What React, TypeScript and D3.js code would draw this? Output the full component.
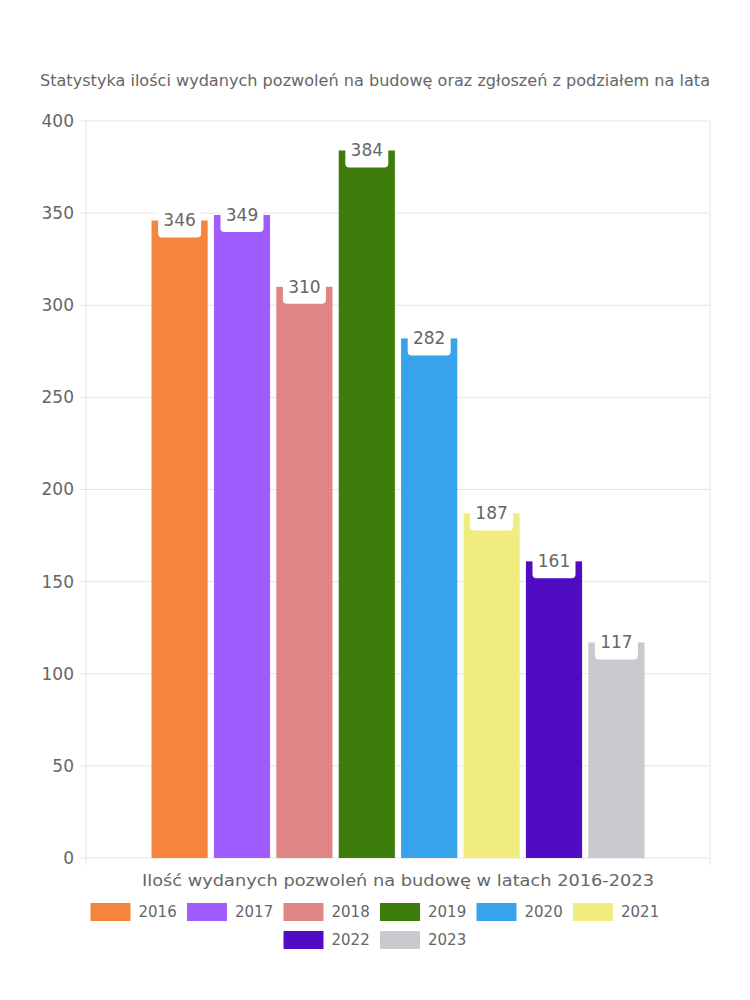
import { useMemo } from 'react';
import * as d3 from 'd3';

const years = ['2016', '2017', '2018', '2019', '2020', '2021', '2022', '2023'];
const permits = [346, 349, 310, 384, 282, 187, 161, 117];
const colors = ['#f5843f', '#a05cff', '#e08585', '#3e7d0c', '#37a3eb', '#f0ec7e', '#500cc3', '#c9cace'];
const yTicks = [0, 50, 100, 150, 200, 250, 300, 350, 400];

const title = 'Statystyka ilości wydanych pozwoleń na budowę oraz zgłoszeń z podziałem na lata';
const xTitle = 'Ilość wydanych pozwoleń na budowę w latach 2016-2023';

const W = 750;
const H = 1000;
const font = "'DejaVu Sans', sans-serif";
const textColor = '#666';

export default function App() {
  const margin = { top: 121, right: 40, bottom: 142, left: 86 };
  const innerW = W - margin.left - margin.right;
  const innerH = H - margin.top - margin.bottom;

  const y = useMemo(() => d3.scaleLinear().domain([0, 400]).range([innerH, 0]), [innerH]);

  // single category, bars grouped inside it (80% of width, 90% per bar)
  const groupW = innerW * 0.8;
  const x = d3.scaleBand().domain(years).range([(innerW - groupW) / 2, (innerW + groupW) / 2]).paddingInner(0.1).paddingOuter(0.05);

  const legendRows = [years.slice(0, 6), years.slice(6)];
  const itemW = 96.5;

  return (
    <svg width={W} height={H} style={{ position: 'absolute', left: 0, top: 0 }} fontFamily={font}>
      <text x={375} y={86} textAnchor="middle" fontSize={15} fill={textColor} textLength={670} lengthAdjust="spacingAndGlyphs">{title}</text>
      <g transform={`translate(${margin.left},${margin.top})`}>
        {yTicks.map(t => (
          <g key={t}>
            <line x1={-6} x2={innerW} y1={y(t)} y2={y(t)} stroke="#e5e5e5" />
            <text x={-12} y={y(t)} dy="0.35em" textAnchor="end" fontSize={17} fill={textColor}>{t}</text>
          </g>
        ))}
        <line x1={0} x2={0} y1={0} y2={innerH + 7} stroke="#e5e5e5" />
        <line x1={innerW} x2={innerW} y1={0} y2={innerH + 7} stroke="#e5e5e5" />
        {years.map((yr, i) => (
          <rect key={yr} x={x(yr)} y={y(permits[i])} width={x.bandwidth()} height={innerH - y(permits[i])} fill={colors[i]} />
        ))}
        {years.map((yr, i) => {
          const cx = (x(yr) ?? 0) + x.bandwidth() / 2;
          const cy = y(permits[i]);
          return (
            <g key={yr}>
              <rect x={cx - 21.5} y={cy - 17} width={43} height={34} rx={4} fill="#fff" />
              <text x={cx} y={cy} dy="0.35em" textAnchor="middle" fontSize={17} fill={textColor}>{permits[i]}</text>
            </g>
          );
        })}
        <text x={innerW / 2} y={innerH + 28} textAnchor="middle" fontSize={16} fill={textColor} textLength={512} lengthAdjust="spacingAndGlyphs">{xTitle}</text>
      </g>
      {legendRows.map((row, r) => {
        const rowW = row.length * itemW;
        const startX = 375 - rowW / 2 + 5;
        const cy = 912 + r * 28;
        return row.map((yr, j) => {
          const i = years.indexOf(yr);
          const lx = startX + j * itemW;
          return (
            <g key={yr}>
              <rect x={lx} y={cy - 9} width={40} height={18} fill={colors[i]} />
              <text x={lx + 48} y={cy} dy="0.35em" fontSize={15} fill={textColor}>{yr}</text>
            </g>
          );
        });
      })}
    </svg>
  );
}
